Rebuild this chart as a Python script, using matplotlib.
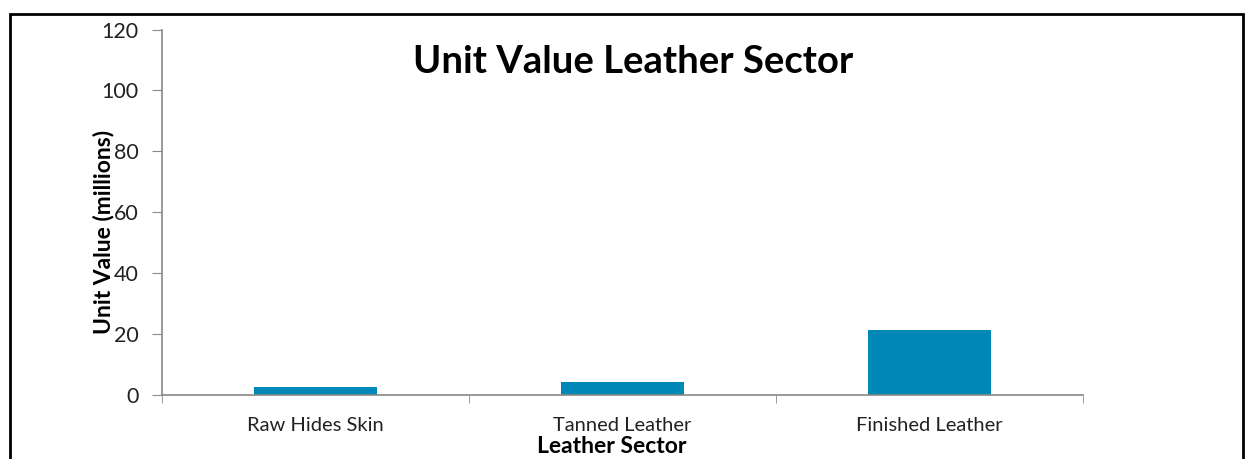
import matplotlib.pyplot as plt
from matplotlib.patches import Rectangle

# Data
sectors = ['Raw Hides Skin', 'Tanned Leather', 'Finished Leather']
unit_value = [2.7, 4.2, 21.3]
y_ticks = [0, 20, 40, 60, 80, 100, 120]

plt.rcParams['font.family'] = ['Lato', 'DejaVu Sans']

W, H = 1249, 459
fig = plt.figure(figsize=(W / 100, H / 100), dpi=100)

# outer black frame (bottom edge runs off the image)
fig.patches.append(Rectangle((10 / W, -0.1), 1233 / W, 1.1 - 14 / H,
                             transform=fig.transFigure, fill=False,
                             edgecolor='black', linewidth=2))

ax = fig.add_axes([162 / W, 1 - 395 / H, 921 / W, 365.5 / H])
x = range(len(sectors))
ax.bar(x, unit_value, width=0.4, color='#0088b8')

ax.set_xlim(-0.5, len(sectors) - 0.5)
ax.set_ylim(0, 120)
ax.set_yticks(y_ticks)
ax.set_xticks(x)
ax.set_xticklabels(sectors)
# category separators as ticks
ax.set_xticks([i - 0.5 for i in range(len(sectors) + 1)], minor=True)
ax.tick_params(axis='x', which='major', length=0, pad=16, labelsize=14.5, colors='#222222')
ax.tick_params(axis='x', which='minor', length=6, color='#888888', direction='out')
ax.tick_params(axis='y', length=7, color='#888888', labelsize=15.5, labelcolor='#222222', pad=10)

for side in ['top', 'right']:
    ax.spines[side].set_visible(False)
for side in ['left', 'bottom']:
    ax.spines[side].set_color('#888888')
    ax.spines[side].set_linewidth(1.2)

ax.set_ylabel('Unit Value (millions)', fontsize=16.5, fontweight='bold')
ax.yaxis.set_label_coords(-0.064, 0.446)
ax.yaxis.label.set_va('center')
ax.set_xlabel('Leather Sector', fontsize=16.5, fontweight='bold')
ax.xaxis.set_label_coords(0.488, -0.142)
ax.xaxis.label.set_va('center')

fig.text(633 / W, 1 - 62 / H, 'Unit Value Leather Sector', fontsize=27.5,
         fontweight='bold', ha='center', va='center')

fig.savefig('out.png', dpi=100)
